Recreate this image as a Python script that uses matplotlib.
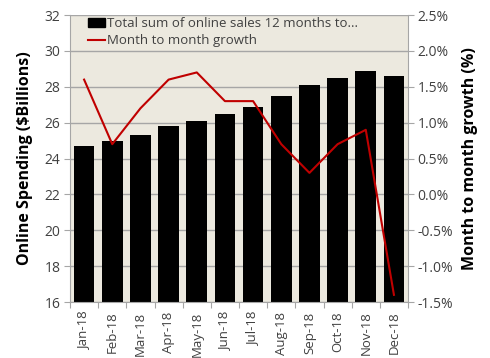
import matplotlib
matplotlib.use("Agg")
import matplotlib.pyplot as plt
from matplotlib.ticker import FuncFormatter, MultipleLocator
from matplotlib.lines import Line2D
from matplotlib.patches import Patch

months = ["Jan-18", "Feb-18", "Mar-18", "Apr-18", "May-18", "Jun-18",
          "Jul-18", "Aug-18", "Sep-18", "Oct-18", "Nov-18", "Dec-18"]
sales_12m = [24.7, 25.0, 25.3, 25.8, 26.1, 26.5, 26.9, 27.5, 28.1, 28.5, 28.9, 28.6]
mom_growth = [1.6, 0.7, 1.2, 1.6, 1.7, 1.3, 1.3, 0.7, 0.3, 0.7, 0.9, -1.4]

plt.rcParams['font.family'] = ['Open Sans', 'DejaVu Sans']
bg = "#ECE9DF"
spine_col = "#A6A6A6"
text_col = "#404040"

fig = plt.figure(figsize=(4.9, 3.58), dpi=100)
ax = fig.add_axes([0.1429, 0.1564, 0.6898, 0.8016])
ax.set_facecolor(bg)
x = list(range(len(months)))
ax.bar(x, sales_12m, width=0.73, color="black", zorder=2)
ax.set_xlim(-0.5, len(months) - 0.5)
ax.set_ylim(16, 32)
ax.yaxis.set_major_locator(MultipleLocator(2))
ax.grid(axis="y", color=spine_col, linewidth=1.0, zorder=0)
ax.set_axisbelow(True)
ax.set_xticks([i - 0.5 for i in range(len(months) + 1)])
ax.set_xticklabels([])
ax.set_xticks(x, minor=True)
ax.set_xticklabels(months, minor=True, rotation=90, fontsize=9.5, color=text_col)
ax.tick_params(axis="x", which="minor", length=0, pad=7)
ax.tick_params(axis="x", which="major", length=4, color=spine_col)
ax.tick_params(axis="y", length=4, color=spine_col, labelsize=10, labelcolor=text_col, pad=3)
ax.set_ylabel("Online Spending ($Billions)", fontsize=11.5, fontweight="bold", labelpad=8)
for s in ax.spines.values():
    s.set_color(spine_col)
ax.spines["top"].set_visible(False)
ax.spines["right"].set_visible(False)

ax2 = ax.twinx()
ax2.plot(x, mom_growth, color="#C00000", linewidth=1.5, zorder=3)
ax2.set_ylim(-1.5, 2.5)
ax2.yaxis.set_major_locator(MultipleLocator(0.5))
ax2.yaxis.set_major_formatter(FuncFormatter(lambda v, p: f"{v:.1f}%"))
ax2.tick_params(axis="y", length=4, color=spine_col, labelsize=10, labelcolor=text_col, pad=3)
ax2.set_ylabel("Month to month growth (%)", fontsize=11.5, fontweight="bold", labelpad=6)
for s in ax2.spines.values():
    s.set_color(spine_col)
ax2.spines["top"].set_visible(False)
ax2.spines["left"].set_visible(False)
ax2.spines["bottom"].set_visible(False)

handles = [Patch(facecolor="black", edgecolor="black"),
           Line2D([0], [0], color="#C00000", linewidth=1.5)]
labels = ["Total sum of online sales 12 months to...", "Month to month growth"]
leg = ax2.legend(handles, labels, loc="upper left", bbox_to_anchor=(0.03, 1.02),
                 frameon=False, fontsize=9.5, handlelength=1.3, handleheight=0.7,
                 handletextpad=0.1, labelspacing=0.3, borderaxespad=0.2)
for t in leg.get_texts():
    t.set_color(text_col)

fig.savefig("out.png", dpi=100)
